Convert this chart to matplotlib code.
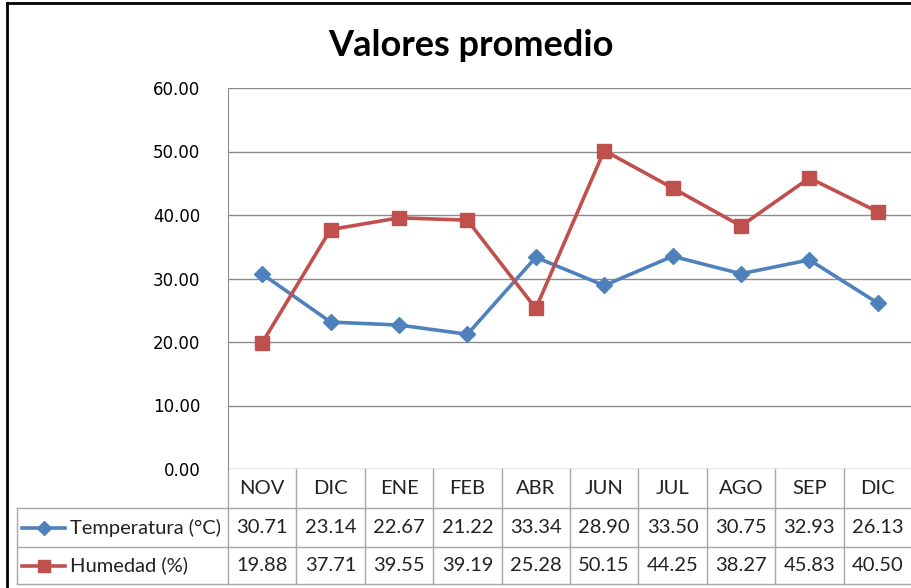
import matplotlib.pyplot as plt
from matplotlib.lines import Line2D

months = ["NOV", "DIC", "ENE", "FEB", "ABR", "JUN", "JUL", "AGO", "SEP", "DIC"]
temperatura = [30.71, 23.14, 22.67, 21.22, 33.34, 28.90, 33.50, 30.75, 32.93, 26.13]
humedad = [19.88, 37.71, 39.55, 39.19, 25.28, 50.15, 44.25, 38.27, 45.83, 40.50]
y_ticks = [0, 10, 20, 30, 40, 50, 60]

series = [
    ("Temperatura (°C)", temperatura, "#4F81BD", "D", 8),
    ("Humedad (%)", humedad, "#C0504D", "s", 10.5),
]

W, H = 912, 588
fig = plt.figure(figsize=(W / 100, H / 100), dpi=100)
ax = fig.add_axes([228 / W, 1 - 469 / H, 1 - 228 / W, (469 - 88) / H])

x = list(range(len(months)))
for label, values, color, marker, ms in series:
    ax.plot(x, values, color=color, lw=2.6, marker=marker, markersize=ms,
            clip_on=False, zorder=3)

ax.set_xlim(-0.5, len(months) - 0.5)
ax.set_ylim(0, 60)
ax.set_yticks(y_ticks)
ax.set_yticklabels([f"{v:.2f}" for v in y_ticks], fontsize=12, family="DejaVu Sans")
ax.tick_params(axis="y", length=0, pad=20)
ax.set_xticks([])
ax.grid(axis="y", color="#8C8C8C", lw=1)
for side in ["top", "right", "bottom"]:
    ax.spines[side].set_visible(False)
ax.spines["left"].set_color("#8C8C8C")

# data table under the plot, columns follow the x data scale
grey = "#A6A6A6"
h = ax.get_window_extent().height
row_y = [0, -39 / h, -78 / h, -115 / h]
tr = ax.get_xaxis_transform()
tfont = dict(family="Lato", fontsize=14.5, color="#222222")
col_w = (W - 228) / len(months)
x_left = -0.5 - (228 - 17) / col_w

for i in range(len(months)):
    ax.plot([i - 0.5, i - 0.5], [0, row_y[3]], transform=tr, color=grey,
            lw=1, clip_on=False)
for yv in row_y[1:]:
    ax.plot([x_left, len(months) - 0.5], [yv, yv], transform=tr, color=grey,
            lw=1, clip_on=False)
ax.plot([x_left, x_left], [row_y[1], row_y[3]], transform=tr, color=grey,
        lw=1, clip_on=False)

for i, m in enumerate(months):
    ax.text(i, (row_y[0] + row_y[1]) / 2, m, transform=tr, ha="center",
            va="center", **tfont)

for r, (label, values, color, marker, ms) in enumerate(series):
    yc = (row_y[r + 1] + row_y[r + 2]) / 2
    for i, v in enumerate(values):
        ax.text(i, yc, f"{v:.2f}", transform=tr, ha="center", va="center", **tfont)
    x0 = -0.5 - (228 - 22) / col_w
    x1 = -0.5 - (228 - 65) / col_w
    ax.add_line(Line2D([x0, x1], [yc, yc], transform=tr, color=color, lw=2.6,
                       clip_on=False))
    ax.add_line(Line2D([(x0 + x1) / 2], [yc], transform=tr, color=color,
                       marker=marker, markersize=ms * 0.85, clip_on=False))
    ax.text(-0.5 - (228 - 70) / col_w, yc, label, transform=tr, ha="left",
            va="center", **tfont)

fig.text(471 / W, 1 - 45 / H, "Valores promedio", ha="center", va="center",
         family="Lato", fontweight="bold", fontsize=26)

# chart border
fig.add_artist(Line2D([7 / W, 7 / W], [0, 1 - 3 / H], color="black", lw=2))
fig.add_artist(Line2D([7 / W, 1], [1 - 3 / H, 1 - 3 / H], color="black", lw=2))

fig.savefig("out.png", dpi=100)
